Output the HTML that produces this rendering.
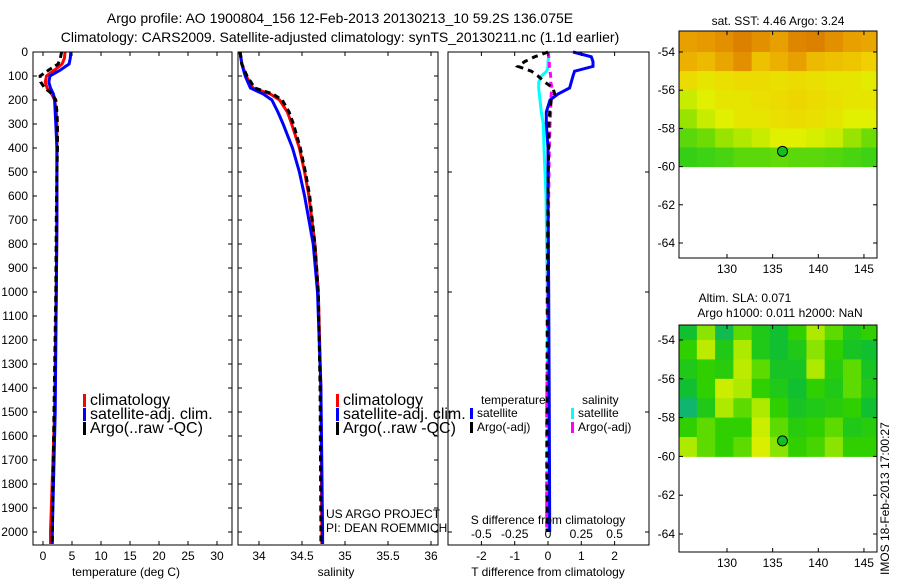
<!DOCTYPE html>
<html><head><meta charset="utf-8">
<style>
body{margin:0;background:#fff;}
svg{display:block;font-family:"Liberation Sans",sans-serif;font-size:12px;}
.lg{font-size:16px;}
.tt{font-size:14px;}
</style></head>
<body>
<svg id="fig" width="900" height="580" viewBox="0 0 900 580">
<text class="tt" x="340" y="23" text-anchor="middle">Argo profile: AO 1900804_156 12-Feb-2013 20130213_10 59.2S 136.075E</text>
<text class="tt" x="340" y="42" text-anchor="middle">Climatology: CARS2009. Satellite-adjusted climatology: synTS_20130211.nc (1.1d earlier)</text>
</svg>
<script>
// ---------- data ----------
const depthsT = [0,25,50,75,100,125,150,175,200,250,300,400,500,700,1000,1500,2000,2050];
const tempClim = [3.8,3.7,3.3,2.0,0.6,0.4,0.7,1.5,2.0,2.3,2.4,2.4,2.4,2.4,2.3,2.0,1.3,1.3];
const tempSat = [4.8,4.7,4.5,3.0,1.2,1.0,1.3,1.8,2.0,2.1,2.2,2.4,2.4,2.4,2.3,2.1,1.6,1.6];
const tempArgo = [3.2,3.0,2.6,1.0,-0.5,-0.4,0.3,1.6,2.2,2.4,2.5,2.5,2.4,2.3,2.2,1.9,1.6,1.6];
const depthsS = [0,50,100,150,175,200,250,300,400,500,600,800,1000,1400,2000,2050];
const salClim = [33.78,33.8,33.85,33.93,34.13,34.24,34.33,34.38,34.47,34.53,34.58,34.65,34.69,34.72,34.73,34.73];
const salSat = [33.78,33.8,33.84,33.9,34.05,34.15,34.22,34.28,34.39,34.47,34.53,34.63,34.68,34.72,34.74,34.74];
const salArgo = [33.78,33.8,33.86,33.95,34.16,34.27,34.35,34.4,34.48,34.54,34.59,34.65,34.69,34.71,34.72,34.72];
const depthsD = [0,20,40,60,80,100,125,150,175,200,250,300,400,600,1000,1500,2000];
const dTSat = [0.75,1.3,1.35,1.35,0.8,0.75,0.7,0.65,0.3,0.06,-0.05,-0.05,0.0,0.0,0.02,0.04,0.05];
const dTArgo = [0.0,-0.4,-0.7,-0.9,-0.5,-0.3,-0.1,0.15,0.2,0.1,0.05,0.03,0.02,0.0,-0.02,-0.03,-0.03];
const dSSat = [0.005,0.005,0.0,0.0,-0.01,-0.05,-0.07,-0.07,-0.065,-0.06,-0.05,-0.035,-0.03,-0.015,-0.005,0.0,0.0];
const dSArgo = [0.0,0.005,0.01,0.01,0.015,0.02,0.02,0.03,0.025,0.02,0.02,0.015,0.01,0.005,0.0,-0.01,-0.01];
const sstGrid = [
 [0.8,0.82,0.85,0.9,0.85,0.8,0.88,0.9,0.85,0.8,0.78],
 [0.75,0.72,0.78,0.85,0.7,0.75,0.8,0.72,0.7,0.68,0.65],
 [0.6,0.55,0.58,0.6,0.6,0.58,0.6,0.58,0.55,0.55,0.52],
 [0.45,0.5,0.55,0.55,0.58,0.6,0.62,0.6,0.58,0.55,0.55],
 [0.35,0.45,0.5,0.55,0.55,0.58,0.6,0.58,0.55,0.5,0.5],
 [0.2,0.25,0.35,0.4,0.45,0.5,0.5,0.48,0.45,0.35,0.25],
 [0.1,0.12,0.15,0.2,0.2,0.22,0.2,0.2,0.18,0.15,0.12]];
const slaGrid = [
 [0.3,0.7,0.2,0.6,0.4,0.3,0.5,0.8,0.6,0.4,0.5],
 [0.5,0.85,0.4,0.8,0.4,0.3,0.4,0.7,0.5,0.35,0.3],
 [0.4,0.5,0.45,0.85,0.6,0.35,0.35,0.8,0.45,0.6,0.35],
 [0.3,0.5,0.9,0.8,0.5,0.4,0.3,0.5,0.4,0.6,0.4],
 [0.1,0.4,0.8,0.6,0.8,0.5,0.35,0.4,0.45,0.5,0.3],
 [0.5,0.6,0.5,0.5,0.9,0.6,0.45,0.5,0.6,0.4,0.45],
 [0.8,0.6,0.5,0.6,0.95,0.7,0.5,0.55,0.7,0.5,0.5]];
const gridLon0 = 124.7, gridDLon = 2, gridLat0 = -53, gridDLat = 1;
const argoLon = 136.075, argoLat = -59.2;
const depthTicks = [0,100,200,300,400,500,600,700,800,900,1000,1100,1200,1300,1400,1500,1600,1700,1800,1900,2000];
const tTicks = [0,5,10,15,20,25,30];
const sTicks = [34,34.5,35,35.5,36];
const dTTicks = [-2,-1,0,1,2];
const dSTicks = [-0.5,-0.25,0,0.25,0.5];
const dSTickLabels = ["-0.5","-0.25","0","0.25","0.5"];
const lonTicks = [130,135,140,145];
const latTicks = [-54,-56,-58,-60,-62,-64];

// ---------- helpers ----------
const svg = document.getElementById('fig');
const NS = 'http://www.w3.org/2000/svg';
function mk(tag, attrs, parent){const e=document.createElementNS(NS,tag);for(const k in attrs)e.setAttribute(k,attrs[k]);(parent||svg).appendChild(e);return e;}
function txt(x,y,s,anchor,parent){const e=mk('text',{x:x,y:y,'text-anchor':anchor||'start'},parent);e.textContent=s;return e;}
const yD = d => 52 + d*0.24;
function line(xs, ds, xf, color, w, dash, name){
  const pts = xs.map((v,i)=>xf(v).toFixed(1)+','+yD(ds[i]).toFixed(1)).join(' ');
  const p = mk('polyline',{points:pts,fill:'none',stroke:color,'stroke-width':w});
  if(dash) p.setAttribute('stroke-dasharray',dash);
  
  
  return p;
}
function box(x0,y0,x1,y1,name){
  const r = mk('rect',{x:x0,y:y0,width:x1-x0,height:y1-y0,fill:'none',stroke:'#000','stroke-width':1});
  
  
}
function xticks(x0,x1,y0,y1,vals,xf){
  vals.forEach(v=>{const x=xf(v);mk('line',{x1:x,x2:x,y1:y1,y2:y1-4,stroke:'#000'});mk('line',{x1:x,x2:x,y1:y0,y2:y0+4,stroke:'#000'});});
}
function yticks(x0,x1,vals){
  vals.forEach(d=>{const y=yD(d);mk('line',{x1:x0,x2:x0+4,y1:y,y2:y,stroke:'#000'});mk('line',{x1:x1,x2:x1-4,y1:y,y2:y,stroke:'#000'});});
}
function legend(x,y,items,name,big){
  const g = mk('g',{});
  
  
  items.forEach((it,i)=>{
    mk('rect',{x:x,y:y+i*14-(big?11:9),width:3,height:big?13:11,fill:it[1]},g);
    const t = txt(x+7,y+i*14,it[0],'start',g);
    if(big) t.setAttribute('class','lg');
    
    
  });
}

// ---------- panel 1: temperature ----------
const xT = v => 43 + v*5.8;
line(tempClim, depthsT, xT, '#ff0000', 3, null, 'temp-climatology-line');
line(tempSat, depthsT, xT, '#0000ff', 3, null, 'temp-satellite-line');
line(tempArgo, depthsT, xT, '#000000', 3, '6,4', 'temp-argo-line');
box(33,52,232,545,'temperature-axes');
xticks(33,232,52,545,tTicks,xT);
yticks(33,232,depthTicks);
depthTicks.forEach(d=>{const t=txt(28,yD(d)+4,String(d),'end');});
tTicks.forEach(v=>{const t=txt(xT(v),560,String(v),'middle');});
{const t=txt(126,576,'temperature (deg C)','middle');}
legend(83,405,[['climatology','#ff0000'],['satellite-adj. clim.','#0000ff'],['Argo(..raw -QC)','#000000']],'temp-legend',true);

// ---------- panel 2: salinity ----------
const xS = v => 259 + (v-34)*86;
line(salClim, depthsS, xS, '#ff0000', 3, null, 'sal-climatology-line');
line(salSat, depthsS, xS, '#0000ff', 3, null, 'sal-satellite-line');
line(salArgo, depthsS, xS, '#000000', 3, '6,4', 'sal-argo-line');
box(238,52,438,545,'salinity-axes');
xticks(238,438,52,545,sTicks,xS);
yticks(238,438,depthTicks);
sTicks.forEach(v=>{const t=txt(xS(v),560,String(v),'middle');});
{const t=txt(336,576,'salinity','middle');}
legend(336,405,[['climatology','#ff0000'],['satellite-adj. clim.','#0000ff'],['Argo(..raw -QC)','#000000']],'sal-legend',true);
{const t=txt(326,518,'US ARGO PROJECT');}
{const t=txt(326,532,'PI: DEAN ROEMMICH');}

// ---------- panel 3: differences ----------
const xDT = v => 548 + v*33.3;
const xDS = v => 548 + v*133.2;
line(dSSat, depthsD, xDS, '#00ffff', 3, null, 'sal-diff-satellite-line');
line(dSArgo, depthsD, xDS, '#ff00ff', 3, '6,4', 'sal-diff-argo-line');
line(dTSat, depthsD, xDT, '#0000ff', 3, null, 'temp-diff-satellite-line');
line(dTArgo, depthsD, xDT, '#000000', 3, '6,5', 'temp-diff-argo-line');
box(448,52,649,545,'difference-axes');
xticks(448,649,52,545,dTTicks,xDT);
yticks(448,649,depthTicks.filter(d=>d%500===0));
dTTicks.forEach(v=>{const t=txt(xDT(v),560,String(v),'middle');});
dSTicks.forEach((v,i)=>{const t=txt(xDS(v),538,dSTickLabels[i],'middle');});
{const t=txt(548,524,'S difference from climatology','middle');}
{const t=txt(548,576,'T difference from climatology','middle');}
{const t=txt(481,404,'temperature');}
{const t=txt(582,404,'salinity');}
legend(470,417,[['satellite','#0000ff'],['Argo(-adj)','#000000']],'temp-diff-legend',false);
legend(571,417,[['satellite','#00ffff'],['Argo(-adj)','#ff00ff']],'sal-diff-legend',false);

// ---------- maps ----------
function lerpColor(stops,t){
  t=Math.max(0,Math.min(1,t));
  for(let i=1;i<stops.length;i++){if(t<=stops[i][0]){const a=stops[i-1],b=stops[i];const f=(t-a[0])/(b[0]-a[0]);
    return 'rgb('+[0,1,2].map(k=>Math.round(a[1][k]+(b[1][k]-a[1][k])*f)).join(',')+')';}}
  return 'rgb('+stops[stops.length-1][1].join(',')+')';
}
const sstStops=[[0,[16,200,32]],[0.3,[128,224,0]],[0.5,[224,240,0]],[0.65,[240,208,0]],[0.8,[232,160,0]],[1,[208,96,0]]];
const slaStops=[[0,[16,176,144]],[0.3,[16,192,48]],[0.5,[48,208,0]],[0.75,[160,232,0]],[1,[232,240,0]]];
function map(top,bottom,latTopY,pxPerDeg,grid,stops,name){
  const x0=679,x1=877;
  const xL = lon => 727 + (lon-130)*9.13;
  const yL = lat => latTopY + (-54-lat)*pxPerDeg;
  const g = mk('g',{});
  
  
  const clip = mk('clipPath',{id:name+'-clip'},g);
  mk('rect',{x:x0,y:top,width:x1-x0,height:bottom-top},clip);
  const cg = mk('g',{'clip-path':'url(#'+name+'-clip)'},g);
  grid.forEach((row,r)=>row.forEach((v,c)=>{
    const la=gridLat0-r*gridDLat, lo=gridLon0+c*gridDLon;
    const y0=yL(la)-(r===0?20:0);
    const cell=mk('rect',{x:xL(lo),y:y0,width:xL(lo+gridDLon)-xL(lo)+0.5,height:yL(la-gridDLat)-y0+0.5,fill:lerpColor(stops,v)},cg);
    
    
  }));
  const m=mk('circle',{cx:xL(argoLon),cy:yL(argoLat),r:5,fill:'#10c020',stroke:'#000'});
  
  
  box(x0,top,x1,bottom,name+'-axes');
  lonTicks.forEach(v=>{const x=xL(v);mk('line',{x1:x,x2:x,y1:bottom,y2:bottom-4,stroke:'#000'});mk('line',{x1:x,x2:x,y1:top,y2:top+4,stroke:'#000'});
    const t=txt(x,bottom+15,String(v),'middle');});
  latTicks.forEach(v=>{const y=yL(v);mk('line',{x1:x0,x2:x0+4,y1:y,y2:y,stroke:'#000'});mk('line',{x1:x1,x2:x1-4,y1:y,y2:y,stroke:'#000'});
    const t=txt(x0-4,y+4,String(v),'end');});
}
map(31,258,52,19.1,sstGrid,sstStops,'sst-map');
map(325,552,340,19.4,slaGrid,slaStops,'sla-map');
{const t=txt(778,25,'sat. SST: 4.46 Argo: 3.24','middle');}
{const t=txt(745,302,'Altim. SLA: 0.071','middle');}
{const t=txt(780,317,'Argo h1000: 0.011 h2000: NaN','middle');}
{const t=txt(0,0,'IMOS 18-Feb-2013 17:00:27','start');t.setAttribute('transform','translate(889,575) rotate(-90)');}
</script>
</body></html>
